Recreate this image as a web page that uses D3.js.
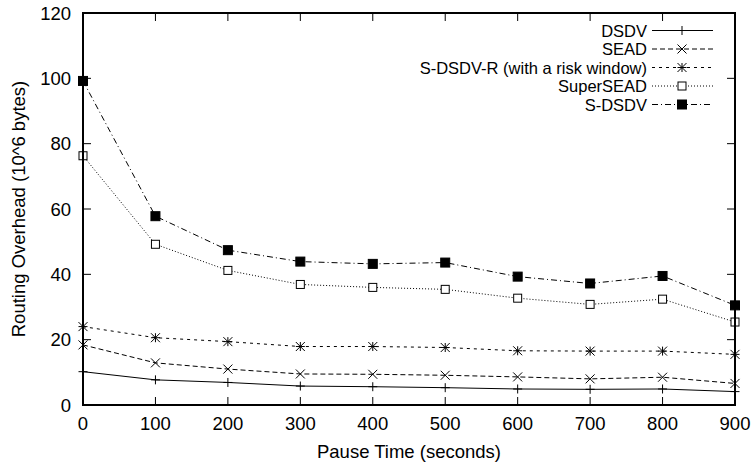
<!DOCTYPE html>
<meta charset="utf-8">
<head>
<style>
  body { margin: 0; background: #fff; }
  text { font-family: "Liberation Sans", Arial, sans-serif; fill: #000; font-size: 18.5px; }
  .legend text { font-size: 16.5px; }
</style>
<script src="https://cdn.jsdelivr.net/npm/d3@7"></script>
</head>
<body>
<script>
var width = 754, height = 468;
var margin = {left: 83, right: 19, top: 13, bottom: 63};

// data
var pauseTimes = [0, 100, 200, 300, 400, 500, 600, 700, 800, 900];
var dsdv     = [10.2, 7.7, 6.9, 5.8, 5.6, 5.3, 4.9, 4.8, 4.9, 4.1];
var sead     = [18.4, 12.9, 11.0, 9.5, 9.4, 9.1, 8.6, 8.0, 8.5, 6.6];
var sdsdvR   = [24.0, 20.6, 19.4, 17.9, 17.9, 17.6, 16.6, 16.5, 16.5, 15.5];
var superSead = [76.3, 49.2, 41.2, 36.9, 36.0, 35.4, 32.7, 30.8, 32.4, 25.4];
var sdsdv    = [99.2, 57.8, 47.4, 43.9, 43.2, 43.6, 39.3, 37.2, 39.5, 30.5];
var xTicks = [0, 100, 200, 300, 400, 500, 600, 700, 800, 900];
var yTicks = [0, 20, 40, 60, 80, 100, 120];

var series = [
  {name: "DSDV", values: dsdv, dash: null, mark: "plus"},
  {name: "SEAD", values: sead, dash: "5,3", mark: "cross"},
  {name: "S-DSDV-R (with a risk window)", values: sdsdvR, dash: "3,4", mark: "star"},
  {name: "SuperSEAD", values: superSead, dash: "1,2", mark: "box"},
  {name: "S-DSDV", values: sdsdv, dash: "6,3,1,3", mark: "fbox"}
];

var svg = d3.select("body").append("svg")
    .attr("width", width)
    .attr("height", height);

var x = d3.scaleLinear().domain([0, 900]).range([margin.left, width - margin.right]);
var y = d3.scaleLinear().domain([0, 120]).range([height - margin.bottom, margin.top]);

// ticks (inward, mirrored)
var tickLen = 8;
var ax = svg.append("g").attr("stroke", "#000").attr("stroke-width", 1);
xTicks.forEach(function(t) {
  ax.append("line").attr("x1", x(t)).attr("x2", x(t))
    .attr("y1", y(0)).attr("y2", y(0) - tickLen);
  ax.append("line").attr("x1", x(t)).attr("x2", x(t))
    .attr("y1", y(120)).attr("y2", y(120) + tickLen);
});
yTicks.forEach(function(t) {
  ax.append("line").attr("x1", x(0)).attr("x2", x(0) + tickLen)
    .attr("y1", y(t)).attr("y2", y(t));
  ax.append("line").attr("x1", x(900)).attr("x2", x(900) - tickLen)
    .attr("y1", y(t)).attr("y2", y(t));
});

svg.append("g").selectAll("text").data(xTicks).enter().append("text")
  .attr("x", function(d) { return x(d); })
  .attr("y", y(0) + 24.5)
  .attr("text-anchor", "middle")
  .text(function(d) { return d; });

svg.append("g").selectAll("text").data(yTicks).enter().append("text")
  .attr("x", x(0) - 12)
  .attr("y", function(d) { return y(d) + 6.5; })
  .attr("text-anchor", "end")
  .text(function(d) { return d; });

svg.append("text")
  .attr("x", (x(0) + x(900)) / 2)
  .attr("y", 458)
  .attr("text-anchor", "middle")
  .text("Pause Time (seconds)");

svg.append("text")
  .attr("transform", "translate(25," + ((y(0) + y(120)) / 2) + ") rotate(-90)")
  .attr("text-anchor", "middle")
  .text("Routing Overhead (10^6 bytes)");

// point markers
function drawMark(g, kind, cx, cy) {
  var s = 4.5;
  var p = g.append("g").attr("stroke", "#000").attr("stroke-width", 1).attr("fill", "none");
  if (kind == "plus" || kind == "star") {
    p.append("line").attr("x1", cx - s).attr("x2", cx + s).attr("y1", cy).attr("y2", cy);
    p.append("line").attr("x1", cx).attr("x2", cx).attr("y1", cy - s).attr("y2", cy + s);
  }
  if (kind == "cross" || kind == "star") {
    p.append("line").attr("x1", cx - s).attr("x2", cx + s).attr("y1", cy - s).attr("y2", cy + s);
    p.append("line").attr("x1", cx - s).attr("x2", cx + s).attr("y1", cy + s).attr("y2", cy - s);
  }
  if (kind == "box") {
    p.append("rect").attr("x", cx - 4).attr("y", cy - 4).attr("width", 8).attr("height", 8)
      .attr("fill", "#fff");
  }
  if (kind == "fbox") {
    p.append("rect").attr("x", cx - 4.5).attr("y", cy - 4.5).attr("width", 9).attr("height", 9)
      .attr("fill", "#000");
  }
}

var line = d3.line()
  .x(function(d, i) { return x(pauseTimes[i]); })
  .y(function(d) { return y(d); });

series.forEach(function(s) {
  svg.append("path")
    .datum(s.values)
    .attr("d", line)
    .attr("fill", "none")
    .attr("stroke", "#000")
    .attr("stroke-width", 1)
    .attr("stroke-dasharray", s.dash);
  var g = svg.append("g");
  s.values.forEach(function(v, i) {
    drawMark(g, s.mark, x(pauseTimes[i]), y(v));
  });
});

// legend
var legend = svg.append("g").attr("class", "legend");
var legendRight = 647, rowY = 30.5, rowStep = 18.5;
series.forEach(function(s, i) {
  var ly = rowY + i * rowStep;
  legend.append("text")
    .attr("x", legendRight)
    .attr("y", ly + 6)
    .attr("text-anchor", "end")
    .text(s.name);
  legend.append("line")
    .attr("x1", 652).attr("x2", 713)
    .attr("y1", ly).attr("y2", ly)
    .attr("stroke", "#000")
    .attr("stroke-width", 1)
    .attr("stroke-dasharray", s.dash);
  drawMark(legend, s.mark, 682, ly);
});

// frame
svg.append("rect")
  .attr("x", x(0)).attr("y", y(120))
  .attr("width", x(900) - x(0)).attr("height", y(0) - y(120))
  .attr("fill", "none")
  .attr("stroke", "#000")
  .attr("stroke-width", 2);
</script>
</body>
